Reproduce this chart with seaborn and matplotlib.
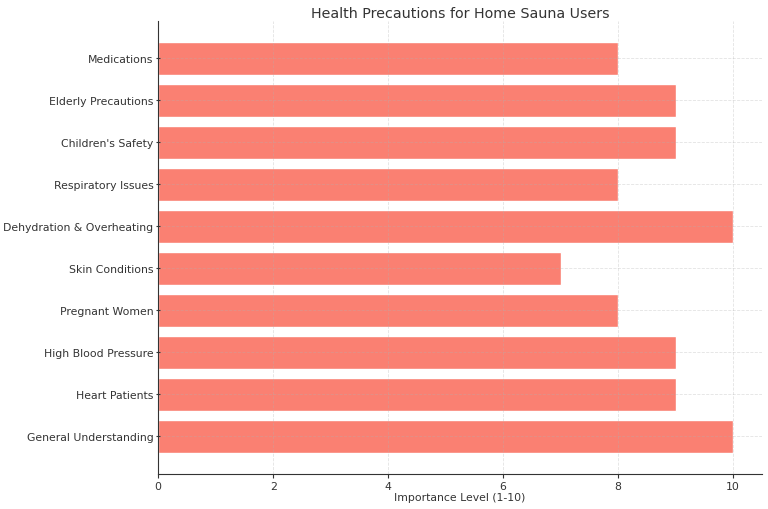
import matplotlib
matplotlib.use("Agg")
import matplotlib.pyplot as plt
import seaborn as sns
import pandas as pd

categories = ["General Understanding", "Heart Patients", "High Blood Pressure", "Pregnant Women",
              "Skin Conditions", "Dehydration & Overheating", "Respiratory Issues",
              "Children's Safety", "Elderly Precautions", "Medications"]
values = [10, 9, 9, 8, 7, 10, 8, 9, 9, 8]

df = pd.DataFrame({"Precaution": categories[::-1], "Importance": values[::-1]})

sns.set_style("white")
plt.rcParams["font.family"] = ["DejaVu Sans"]
fig = plt.figure(figsize=(7.68, 5.1), dpi=100)
ax = fig.add_axes([0.206, 0.069, 0.786, 0.888])
sns.barplot(data=df, x="Importance", y="Precaution", orient="h", color="#FA8072",
            saturation=1, width=0.8, ax=ax)
ax.set_xlim(0, 10.5)
ax.set_ylim(9.89, -0.89)
ax.set_xticks([0, 2, 4, 6, 8, 10])
ax.set_xlabel("Importance Level (1-10)", fontsize=7.8, color="#333333", labelpad=1)
ax.set_ylabel("")
ax.set_title("Health Precautions for Home Sauna Users", fontsize=10.3, color="#333333", pad=3)
ax.tick_params(axis="x", labelsize=7.8, colors="#333333", length=3, direction="out", pad=2)
ax.tick_params(axis="y", labelsize=7.8, colors="#333333", length=3, direction="inout", pad=2)
ax.tick_params(left=True, bottom=True)
ax.grid(True, linestyle="--", color="#b0b0b0", linewidth=0.6, alpha=0.35)
ax.set_axisbelow(False)
for s in ["top", "right"]:
    ax.spines[s].set_visible(False)
for s in ["left", "bottom"]:
    ax.spines[s].set_color("#333333")
    ax.spines[s].set_linewidth(0.8)
    ax.spines[s].set_zorder(5)
fig.savefig("out.png", dpi=100)
